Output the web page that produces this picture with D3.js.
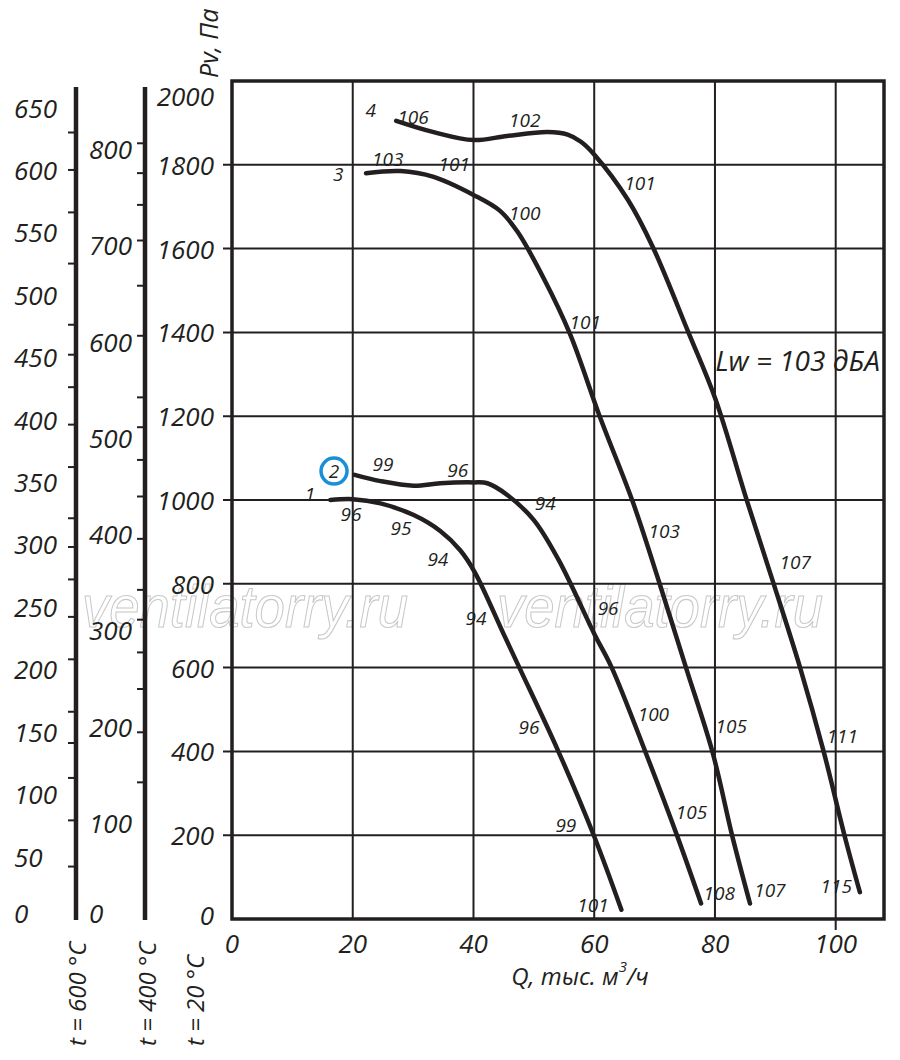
<!DOCTYPE html>
<html>
<head>
<meta charset="utf-8">
<script src="https://cdn.jsdelivr.net/npm/d3@7"></script>
<style>
  body { margin: 0; background: #fff; }
  text { font-family: "Open Sans", "DejaVu Sans", sans-serif; font-style: italic; fill: #231f20; }
</style>
</head>
<body>
<div id="chart"></div>
<script>
const WIDTH = 900;
const HEIGHT = 1060;
const INK = "#231f20";

// оси
const Q_TICKS = [0, 20, 40, 60, 80, 100];
const P_TICKS = [0, 200, 400, 600, 800, 1000, 1200, 1400, 1600, 1800, 2000];

// шкалы давления для горячего газа (пересчёт по плотности 293/T)
const K600 = 293 / 873;
const K400 = 293 / 673;
const T600_LABELS = [0, 50, 100, 150, 200, 250, 300, 350, 400, 450, 500, 550, 600, 650];
const T600_TICKS = [42, 79, 113, 141, 166, 208, 242, 272, 298, 321, 362, 396, 426, 452, 476, 525, 566, 600, 630];
const T400_LABELS = [0, 100, 200, 300, 400, 500, 600, 700, 800];
const T400_TICKS = [142, 194, 239, 277, 311, 342, 395, 439, 477, 511, 542, 606, 658, 705, 742, 775, 806];

// характеристики Pv(Q), Q в тыс. м3/ч, Pv в Па
const curve1 = [[16.3, 1000], [20, 1002], [24.6, 992], [30.1, 964], [34.5, 926], [37.8, 880], [40.2, 828],
  [45, 680], [47.6, 600], [54.0, 402], [60, 197], [64.5, 22]];
const curve2 = [[20.3, 1060], [24.6, 1045], [30.1, 1034], [34.5, 1040], [40, 1042], [42.3, 1040], [45.6, 1012],
  [50, 952], [54.1, 857], [60.1, 678], [62.9, 600], [68.5, 398], [73.8, 196], [77.7, 37]];
const curve3 = [[22.2, 1780], [27.9, 1785], [33.4, 1771], [40, 1728], [44.4, 1690], [47.3, 1640], [51.6, 1530],
  [56, 1396], [60.9, 1200], [66.4, 995], [70.8, 802], [75.2, 600], [79.6, 398], [82.9, 196], [85.8, 37]];
const curve4 = [[27.2, 1905], [33.4, 1878], [40, 1859], [45.6, 1869], [52.3, 1878], [55.6, 1872], [57.8, 1855],
  [60.1, 1823], [65.6, 1716], [69.7, 1604], [75.6, 1400], [80.1, 1240], [85.3, 998], [89.7, 801], [94.1, 600],
  [98.0, 400], [101.5, 197], [104.0, 64]];
const CURVES = [curve1, curve2, curve3, curve4];

// номера кривых и уровни шума, дБА
const CURVE_NUMBERS = [[12.9, 1014, "1"], [16.9, 1069, "2"], [17.6, 1778, "3"], [23.0, 1931, "4"]];
const NOISE_LABELS = [
  [30.0, 1914, "106"], [48.5, 1907, "102"], [67.6, 1757, "101"], [93.3, 852, "107"], [101.1, 437, "111"], [100.1, 79, "115"],
  [25.8, 1814, "103"], [36.8, 1801, "101"], [48.5, 1685, "100"], [58.5, 1425, "101"], [71.6, 926, "103"],
  [82.7, 461, "105"], [89.1, 69, "107"],
  [25.0, 1086, "99"], [37.4, 1072, "96"], [51.9, 993, "94"], [62.3, 742, "96"], [69.8, 489, "100"],
  [76.1, 255, "105"], [80.7, 62, "108"],
  [19.7, 967, "96"], [28.0, 933, "95"], [34.1, 859, "94"], [40.4, 718, "94"], [49.2, 458, "96"],
  [55.3, 224, "99"], [59.8, 33, "101"]
];
const MARKED_CURVE = "2";

const svg = d3.select("#chart").append("svg").attr("width", WIDTH).attr("height", HEIGHT);

const x = d3.scaleLinear().domain([0, 108]).range([232, 884]);
const y = d3.scaleLinear().domain([0, 2000]).range([919, 81]);

// водяной знак
svg.selectAll(".wm")
  .data([82, 497])
  .enter()
  .append("text")
  .attr("x", d => d)
  .attr("y", 627)
  .attr("textLength", 326)
  .attr("lengthAdjust", "spacingAndGlyphs")
  .style("font-family", "'Liberation Sans', Arial, sans-serif")
  .style("font-style", "italic")
  .style("font-size", "60px")
  .style("fill", "none")
  .style("stroke", "#c8c8c8")
  .style("stroke-width", 1.1)
  .text("ventilatorry.ru");

// сетка
svg.selectAll(".vgrid")
  .data(Q_TICKS.slice(1))
  .enter()
  .append("line")
  .attr("x1", d => x(d)).attr("x2", d => x(d))
  .attr("y1", y(2000))
  .attr("y2", d => d === 100 ? y(0) + 11 : y(0))
  .attr("stroke", INK).attr("stroke-width", 2);

svg.selectAll(".hgrid")
  .data(P_TICKS.slice(1, -1))
  .enter()
  .append("line")
  .attr("x1", x(0) - 9).attr("x2", x(108))
  .attr("y1", d => y(d)).attr("y2", d => y(d))
  .attr("stroke", INK).attr("stroke-width", 2);

svg.append("rect")
  .attr("x", x(0)).attr("y", y(2000))
  .attr("width", x(108) - x(0)).attr("height", y(0) - y(2000))
  .attr("fill", "none").attr("stroke", INK).attr("stroke-width", 3.5);

// подписи осей основного графика
svg.selectAll(".plabel")
  .data(P_TICKS)
  .enter()
  .append("text")
  .attr("x", 214)
  .attr("y", d => Math.min(Math.max(y(d), 96), 915))
  .attr("dominant-baseline", "central")
  .attr("text-anchor", "end")
  .style("font-size", "26px")
  .text(d => d);

svg.selectAll(".qlabel")
  .data(Q_TICKS)
  .enter()
  .append("text")
  .attr("x", d => x(d))
  .attr("y", 943)
  .attr("dominant-baseline", "central")
  .attr("text-anchor", "middle")
  .style("font-size", "26px")
  .text(d => d);

svg.append("text")
  .attr("x", 580).attr("y", 975)
  .attr("dominant-baseline", "central")
  .attr("text-anchor", "middle")
  .style("font-size", "24px")
  .text("Q, тыс. м")
  .append("tspan").attr("dy", -9).style("font-size", "15px").text("3")
  .clone().attr("dy", 9).style("font-size", "24px").text("/ч");

svg.append("text")
  .attr("transform", "translate(208,78) rotate(-90)")
  .attr("dominant-baseline", "central")
  .style("font-size", "25px")
  .text("Pv, Па");

// дополнительные шкалы 600 °C и 400 °C
function tempAxis(axisX, k, labels, ticks, labelX) {
  svg.append("line")
    .attr("x1", axisX).attr("x2", axisX)
    .attr("y1", 87).attr("y2", y(0) + 1)
    .attr("stroke", INK).attr("stroke-width", 4.5);

  svg.selectAll(null)
    .data(ticks)
    .enter()
    .append("line")
    .attr("x1", axisX - 8).attr("x2", axisX)
    .attr("y1", d => y(d / k)).attr("y2", d => y(d / k))
    .attr("stroke", INK).attr("stroke-width", 2);

  svg.selectAll(null)
    .data(labels)
    .enter()
    .append("text")
    .attr("x", labelX)
    .attr("y", d => Math.min(y(d / k), 913))
    .attr("dominant-baseline", "central")
    .style("font-size", "26px")
    .text(d => d);
}
tempAxis(76, K600, T600_LABELS, T600_TICKS, 14);
tempAxis(145, K400, T400_LABELS, T400_TICKS, 89);

svg.selectAll(".tlabel")
  .data([[76, "t = 600 °C"], [146, "t = 400 °C"], [194, "t = 20 °C"]])
  .enter()
  .append("text")
  .attr("transform", d => `translate(${d[0]},1046) rotate(-90)`)
  .attr("dominant-baseline", "central")
  .style("font-size", "24px")
  .text(d => d[1]);

// кривые
const line = d3.line()
  .x(d => x(d[0]))
  .y(d => y(d[1]))
  .curve(d3.curveCatmullRom.alpha(0.5));

svg.selectAll(".curve")
  .data(CURVES)
  .enter()
  .append("path")
  .attr("d", line)
  .attr("fill", "none")
  .attr("stroke", INK)
  .attr("stroke-width", 4.5)
  .attr("stroke-linecap", "round");

svg.selectAll(".noise")
  .data(NOISE_LABELS)
  .enter()
  .append("text")
  .attr("x", d => x(d[0]))
  .attr("y", d => y(d[1]))
  .attr("dominant-baseline", "central")
  .attr("text-anchor", "middle")
  .style("font-size", "19px")
  .text(d => d[2]);

svg.selectAll(".num")
  .data(CURVE_NUMBERS)
  .enter()
  .append("text")
  .attr("x", d => x(d[0]))
  .attr("y", d => y(d[1]))
  .attr("dominant-baseline", "central")
  .attr("text-anchor", "middle")
  .style("font-size", "19px")
  .text(d => d[2]);

const marked = CURVE_NUMBERS.find(d => d[2] === MARKED_CURVE);
svg.append("circle")
  .attr("cx", x(marked[0]))
  .attr("cy", y(marked[1]))
  .attr("r", 13)
  .attr("fill", "none")
  .attr("stroke", "#1a8fd8")
  .attr("stroke-width", 3.5);

svg.append("text")
  .attr("x", 880).attr("y", 360)
  .attr("dominant-baseline", "central")
  .attr("text-anchor", "end")
  .style("font-size", "28px")
  .text("Lw = 103 дБА");
</script>
</body>
</html>
